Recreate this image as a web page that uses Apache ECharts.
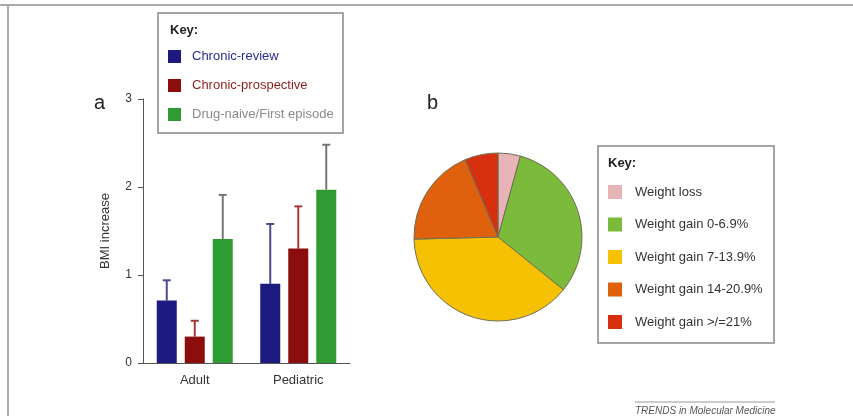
<!DOCTYPE html>
<html>
<head>
<meta charset="utf-8">
<script src="https://cdn.jsdelivr.net/npm/echarts@6/dist/echarts.min.js"></script>
<style>
  html, body { margin: 0; padding: 0; background: #fff; }
  #chart { width: 853px; height: 416px; }
</style>
</head>
<body>
<div id="chart"></div>
<script>
// panel a: BMI increase by group
const categories = ['Adult', 'Pediatric'];
const seriesNames = ['Chronic-review', 'Chronic-prospective', 'Drug-naive/First episode'];
const chronicReview = [0.71, 0.90];
const chronicReviewUpper = [0.94, 1.58];
const chronicProspective = [0.30, 1.30];
const chronicProspectiveUpper = [0.48, 1.78];
const drugNaive = [1.41, 1.97];
const drugNaiveUpper = [1.91, 2.48];

// panel b: weight change share
const pieLabels = ['Weight loss', 'Weight gain 0-6.9%', 'Weight gain 7-13.9%', 'Weight gain 14-20.9%', 'Weight gain >/=21%'];
const pieValues = [4.3, 31.5, 38.8, 19.0, 6.4];

const barColors = ['#1d1a7f', '#8c0d0d', '#2f9b33'];
const errColors = ['#4a4a8e', '#a33a3a', '#767676'];
const legendTextColors = ['#2d2b8c', '#8e1f1f', '#8a8a8a'];
const pieColors = ['#e9b4b8', '#7bba3b', '#f6c103', '#df610d', '#d6300f'];

const font = 'Liberation Sans, Arial, sans-serif';
const BAR_W = 20, BAR_GAP = 8;

const myChart = echarts.init(document.getElementById('chart'));

function errSeries(idx, vals, uppers) {
  const offset = (idx - 1) * (BAR_W + BAR_GAP);
  return {
    type: 'custom',
    name: seriesNames[idx] + ' err',
    z: 1,
    data: vals.map((v, i) => [i, v, uppers[i]]),
    renderItem(params, api) {
      const base = api.coord([api.value(0), api.value(1)]);
      const top = api.coord([api.value(0), api.value(2)]);
      const x = base[0] + offset;
      const st = {stroke: errColors[idx], lineWidth: 2};
      return {
        type: 'group',
        children: [
          {type: 'line', shape: {x1: x, y1: base[1], x2: x, y2: top[1]}, style: st},
          {type: 'line', shape: {x1: x - 4, y1: top[1], x2: x + 4, y2: top[1]}, style: st}
        ]
      };
    }
  };
}

const barSeries = [chronicReview, chronicProspective, drugNaive].map((vals, idx) => ({
  type: 'bar',
  name: seriesNames[idx],
  data: vals,
  barWidth: BAR_W,
  barGap: (BAR_GAP / BAR_W * 100) + '%',
  itemStyle: {color: barColors[idx]},
  z: 2
}));

myChart.setOption({
  animation: false,
  textStyle: {fontFamily: font},
  grid: {left: 143, right: 503, top: 99, bottom: 53},
  xAxis: {
    type: 'category',
    data: categories,
    axisLine: {lineStyle: {color: '#555', width: 1}},
    axisTick: {alignWithLabel: true, length: 5, lineStyle: {color: '#555'}},
    axisLabel: {color: '#333', fontSize: 13, margin: 11}
  },
  yAxis: {
    type: 'value',
    min: 0, max: 3, interval: 1,
    name: 'BMI increase',
    nameLocation: 'middle',
    nameGap: 31,
    nameTextStyle: {color: '#333', fontSize: 13},
    axisLine: {show: true, lineStyle: {color: '#555', width: 1}},
    axisTick: {show: true, length: 5, lineStyle: {color: '#555'}},
    axisLabel: {color: '#333', fontSize: 12, margin: 11},
    splitLine: {show: false}
  },
  legend: [{
    data: seriesNames.map((n, i) => ({name: n, textStyle: {color: legendTextColors[i]}})),
    orient: 'vertical',
    left: 168, top: 50,
    padding: 0,
    icon: 'rect',
    itemWidth: 13, itemHeight: 13, itemGap: 16,
    itemStyle: {borderWidth: 0},
    textStyle: {fontSize: 13, padding: [0, 0, 0, 6]},
    z: 5
  }, {
    data: pieLabels,
    orient: 'vertical',
    left: 608, top: 185,
    padding: 0,
    icon: 'rect',
    itemWidth: 14, itemHeight: 14, itemGap: 18.5,
    itemStyle: {borderWidth: 0},
    textStyle: {fontSize: 13, color: '#333', padding: [0, 0, 0, 8]},
    z: 5
  }],
  graphic: [
    {type: 'line', shape: {x1: 0, y1: 5, x2: 853, y2: 5}, style: {stroke: '#aaa', lineWidth: 2}},
    {type: 'line', shape: {x1: 8, y1: 5, x2: 8, y2: 416}, style: {stroke: '#aaa', lineWidth: 2}},
    {type: 'rect', z: 1, shape: {x: 158, y: 13, width: 185, height: 120}, style: {fill: '#fff', stroke: '#888', lineWidth: 1.5}},
    {type: 'text', z: 5, left: 170, top: 24, style: {text: 'Key:', font: 'bold 13px ' + font, fill: '#222'}},
    {type: 'rect', z: 1, shape: {x: 598, y: 146, width: 176, height: 197}, style: {fill: '#fff', stroke: '#888', lineWidth: 1.5}},
    {type: 'text', z: 5, left: 608, top: 157, style: {text: 'Key:', font: 'bold 13px ' + font, fill: '#222'}},
    {type: 'text', left: 94, top: 93, style: {text: 'a', font: '20px ' + font, fill: '#222'}},
    {type: 'text', left: 427, top: 93, style: {text: 'b', font: '20px ' + font, fill: '#222'}},
    {type: 'line', shape: {x1: 635, y1: 402, x2: 775, y2: 402}, style: {stroke: '#999', lineWidth: 1}},
    {type: 'text', left: 635, top: 406, style: {text: 'TRENDS in Molecular Medicine', font: 'italic 10px ' + font, fill: '#555'}}
  ],
  series: [
    ...barSeries,
    errSeries(0, chronicReview, chronicReviewUpper),
    errSeries(1, chronicProspective, chronicProspectiveUpper),
    errSeries(2, drugNaive, drugNaiveUpper),
    {
      type: 'pie',
      center: [498, 237],
      radius: 84,
      startAngle: 90,
      clockwise: true,
      label: {show: false},
      labelLine: {show: false},
      emphasis: {disabled: true},
      itemStyle: {borderColor: '#6f6f55', borderWidth: 1},
      data: pieLabels.map((n, i) => ({name: n, value: pieValues[i], itemStyle: {color: pieColors[i]}}))
    }
  ]
});
</script>
</body>
</html>
